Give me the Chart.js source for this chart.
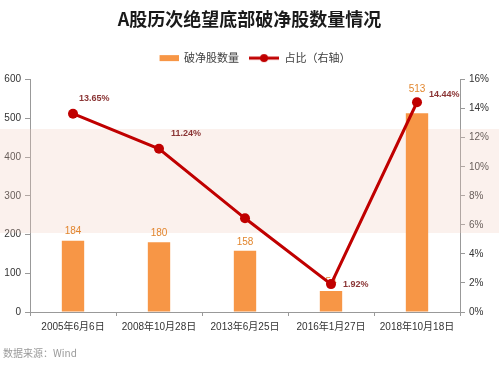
<!DOCTYPE html>
<html>
<head>
<meta charset="utf-8">
<script src="https://cdn.jsdelivr.net/npm/chart.js@4.4.1/dist/chart.umd.min.js"></script>
<style>
  html, body { margin: 0; padding: 0; background: #fff; }
  #wrap { width: 499px; height: 365px; }
</style>
</head>
<body>
<div id="wrap"><canvas id="chart" width="499" height="365"></canvas></div>
<script>
const categories = ['2005年6月6日', '2008年10月28日', '2013年6月25日', '2016年1月27日', '2018年10月18日'];
const breakCount = [184, 180, 158, 54, 513];
const breakRatio = [13.65, 11.24, 6.45, 1.92, 14.44];
const ratioLabels = ['13.65%', '11.24%', null, '1.92%', '14.44%'];
const leftTicks = [0, 600, 100];
const rightTicks = [0, 16, 2];

const orange = '#f79646';
const red = '#c00000';

Chart.defaults.font.family = '"Liberation Sans", "Noto Sans CJK SC", sans-serif';
Chart.defaults.color = '#404040';

// legend swatches
function makeBarSwatch() {
  let c = document.createElement('canvas');
  c.width = 30; c.height = 8;
  let g = c.getContext('2d');
  g.fillStyle = orange;
  g.fillRect(11, 1, 19, 6);
  return c;
}
function makeLineSwatch() {
  let c = document.createElement('canvas');
  c.width = 30; c.height = 10;
  let g = c.getContext('2d');
  g.strokeStyle = red;
  g.lineWidth = 3;
  g.beginPath(); g.moveTo(0, 5); g.lineTo(30, 5); g.stroke();
  g.fillStyle = red;
  g.beginPath(); g.arc(15, 5, 4, 0, Math.PI * 2); g.fill();
  return c;
}
const barSwatch = makeBarSwatch();
const lineSwatch = makeLineSwatch();

const extras = {
  id: 'extras',
  afterInit(chart) {
    // leave a little more room under the legend
    let lg = chart.legend;
    if (lg) {
      let fit = lg.fit.bind(lg);
      lg.fit = function () { fit(); this.height += 6; };
    }
  },
  beforeDatasetsDraw(chart) {
    // faint pink band from the reference image
    let ctx = chart.ctx;
    ctx.save();
    ctx.fillStyle = 'rgba(240, 205, 190, 0.28)';
    ctx.fillRect(0, 129, chart.width, 104);
    ctx.restore();
  },
  afterDatasetDraw(chart, args) {
    let ctx = chart.ctx;
    ctx.save();
    if (args.index === 0) {
      let lineMeta = chart.getDatasetMeta(1);
      ctx.font = '10px "Liberation Sans", sans-serif';
      ctx.fillStyle = '#e2862e';
      ctx.textAlign = 'center';
      ctx.textBaseline = 'bottom';
      args.meta.data.forEach((bar, i) => {
        let y = bar.y - 4;
        let py = lineMeta.data[i].y;
        if (py < bar.y - 10 && py > y - 14) y = py - 8;
        ctx.fillText(String(breakCount[i]), bar.x, y);
      });
    } else if (args.index === 1) {
      ctx.font = 'bold 9px "Liberation Sans", sans-serif';
      ctx.fillStyle = '#8b3535';
      ctx.textAlign = 'left';
      ctx.textBaseline = 'middle';
      let pts = args.meta.data;
      pts.forEach((p, i) => {
        if (!ratioLabels[i]) return;
        let prev = i > 0 ? breakRatio[i - 1] : Infinity;
        let next = i < pts.length - 1 ? breakRatio[i + 1] : Infinity;
        if (breakRatio[i] < prev && breakRatio[i] < next) {
          ctx.fillText(ratioLabels[i], p.x + 12, p.y);
        } else if (i === pts.length - 1) {
          ctx.fillText(ratioLabels[i], p.x + 12, p.y - 8);
        } else {
          ctx.fillText(ratioLabels[i], p.x + 6 + i * 6, p.y - 15);
        }
      });
    }
    ctx.restore();
  },
  afterDraw(chart) {
    let ctx = chart.ctx;
    ctx.save();
    ctx.font = '10px "Noto Sans CJK SC", sans-serif';
    ctx.fillStyle = '#9a9a9a';
    ctx.textBaseline = 'middle';
    ctx.fillText('数据来源：Wind', 3, 353);
    ctx.restore();
  }
};

const ctx = document.getElementById('chart').getContext('2d');
const myChart = new Chart(ctx, {
  data: {
    labels: categories,
    datasets: [{
      type: 'bar',
      label: '破净股数量',
      data: breakCount,
      backgroundColor: orange,
      yAxisID: 'y',
      order: 1,
      barPercentage: 0.52,
      categoryPercentage: 0.5
    }, {
      type: 'line',
      label: '占比（右轴）',
      data: breakRatio,
      borderColor: red,
      backgroundColor: red,
      borderWidth: 3,
      pointRadius: 5,
      pointBackgroundColor: red,
      pointBorderWidth: 0,
      yAxisID: 'y1',
      order: 0,
      tension: 0
    }]
  },
  options: {
    responsive: false,
    animation: false,
    layout: { padding: { left: 0, right: 0, top: 0, bottom: 23 } },
    plugins: {
      title: {
        display: true,
        text: 'A股历次绝望底部破净股数量情况',
        color: '#1a1a1a',
        font: { family: '"Noto Sans CJK SC", sans-serif', size: 18, weight: 'bold' },
        padding: { top: 8, bottom: 13 }
      },
      legend: {
        position: 'top',
        labels: {
          usePointStyle: true,
          pointStyleWidth: 30,
          color: '#404040',
          font: { family: '"Noto Sans CJK SC", sans-serif', size: 11 },
          padding: 10,
          sort: (a, b) => a.datasetIndex - b.datasetIndex,
          generateLabels(chart) {
            let items = Chart.defaults.plugins.legend.labels.generateLabels(chart);
            items.forEach(it => { it.pointStyle = it.datasetIndex === 0 ? barSwatch : lineSwatch; });
            return items;
          }
        }
      },
      tooltip: { enabled: false }
    },
    scales: {
      x: {
        grid: { display: true, drawOnChartArea: false, offset: true, tickLength: 4, color: '#999' },
        border: { color: '#999' },
        ticks: { font: { size: 10 }, color: '#333', padding: 5, maxRotation: 0, autoSkip: false },
        afterFit(scale) { scale.height = 30; }
      },
      y: {
        position: 'left',
        min: leftTicks[0],
        max: leftTicks[1],
        grid: { drawOnChartArea: false, tickLength: 5, color: '#999' },
        border: { color: '#999' },
        ticks: { stepSize: leftTicks[2], font: { size: 10 }, color: '#333', padding: 4 },
        afterFit(scale) { scale.width = 30; }
      },
      y1: {
        position: 'right',
        min: rightTicks[0],
        max: rightTicks[1],
        grid: { drawOnChartArea: false, tickLength: 5, color: '#999' },
        border: { color: '#999' },
        ticks: { stepSize: rightTicks[2], font: { size: 10 }, color: '#333', padding: 4,
                 callback: v => v + '%' },
        afterFit(scale) { scale.width = 39; }
      }
    }
  },
  plugins: [extras]
});
</script>
</body>
</html>
